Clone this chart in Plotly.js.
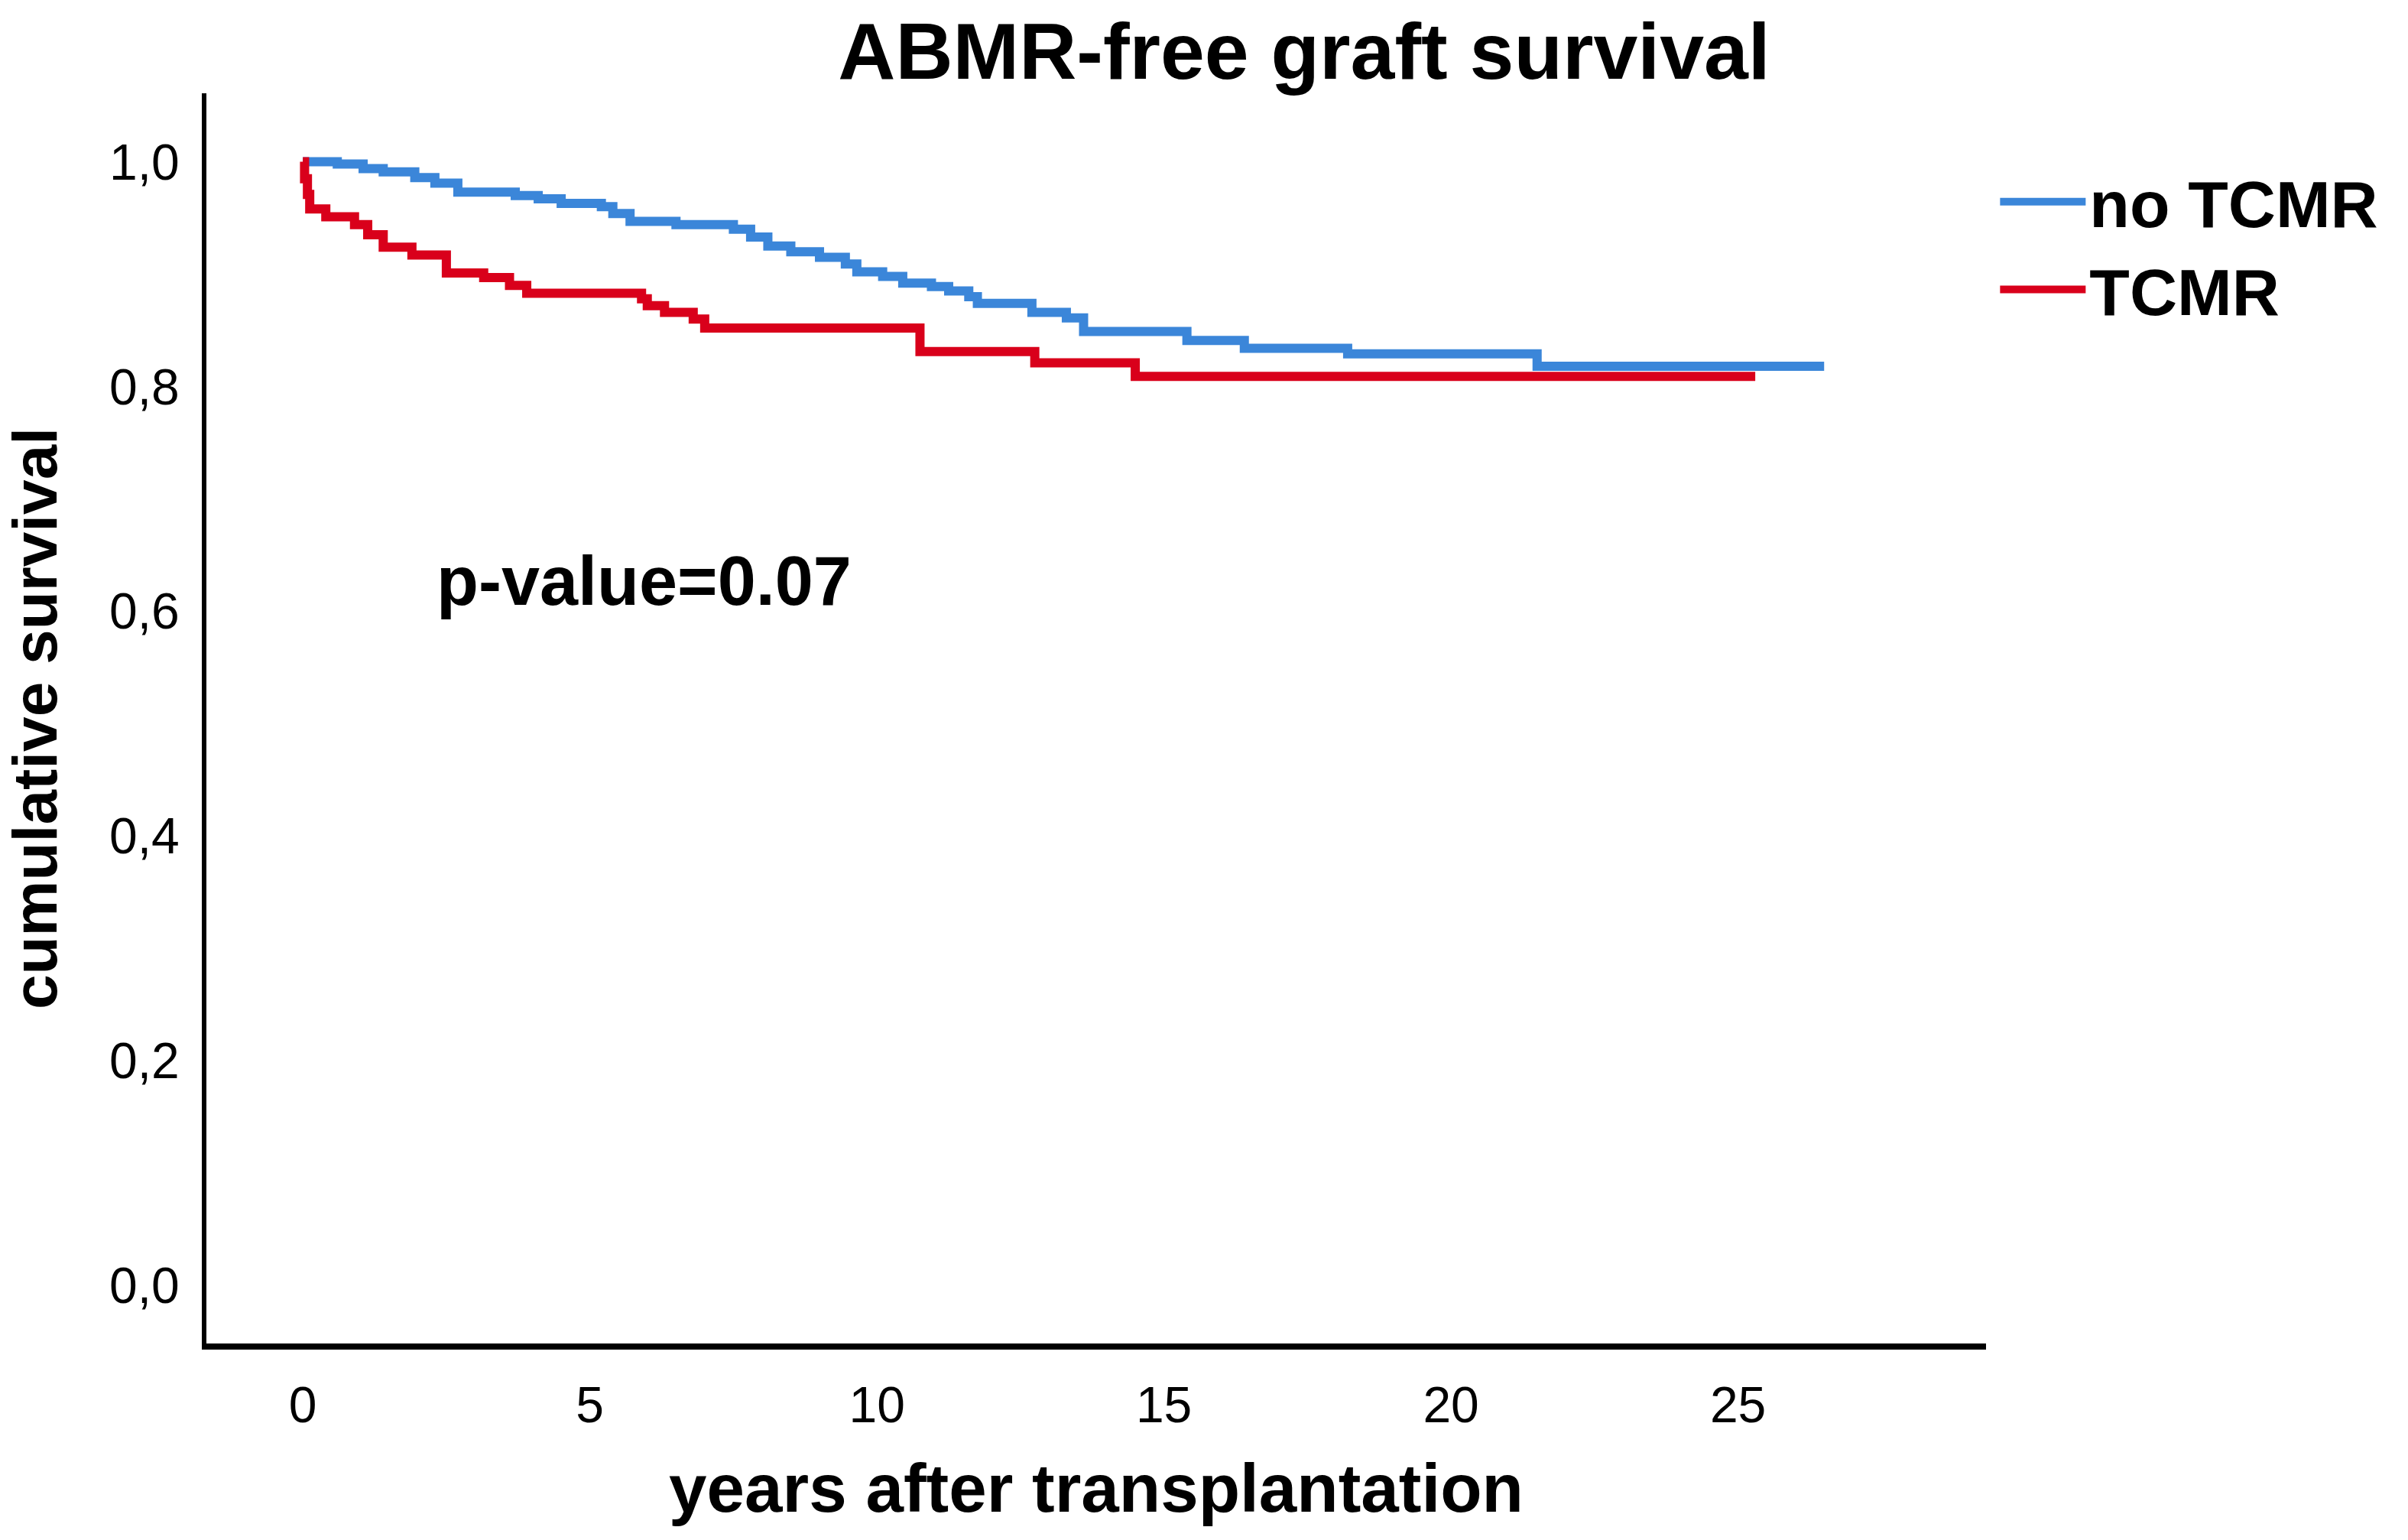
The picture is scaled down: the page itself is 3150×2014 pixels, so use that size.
<!DOCTYPE html>
<html>
<head>
<meta charset="utf-8">
<script src="https://cdn.plot.ly/plotly-3.0.1.min.js"></script>
<style>html,body{margin:0;padding:0;background:#fff;}#chart{width:3150px;height:2014px;}</style>
</head>
<body>
<div id="chart"></div>
<script>
// Kaplan-Meier step points (years, cumulative survival)
const noTcmrYears = [0, 0.6, 1.05, 1.4, 1.95, 2.3, 2.7, 3.7, 4.1, 4.5, 5.2, 5.4, 5.7, 6.5, 7.5, 7.8, 8.1, 8.5, 9.0, 9.45, 9.65, 10.1, 10.45, 10.95, 11.25, 11.6, 11.75, 12.7, 13.3, 13.6, 15.4, 16.4, 18.2, 21.5, 26.5];
const noTcmrSurv  = [1.0, 0.998, 0.994, 0.991, 0.986, 0.981, 0.973, 0.970, 0.967, 0.963, 0.960, 0.954, 0.947, 0.944, 0.940, 0.933, 0.925, 0.920, 0.915, 0.909, 0.902, 0.898, 0.892, 0.889, 0.885, 0.880, 0.874, 0.866, 0.861, 0.849, 0.841, 0.834, 0.829, 0.818, 0.818];

const tcmrYears = [0, 0.03, 0.08, 0.12, 0.4, 0.9, 1.13, 1.4, 1.9, 2.5, 3.15, 3.6, 3.9, 5.9, 6.0, 6.3, 6.8, 7.0, 10.75, 12.75, 14.5, 25.3];
const tcmrSurv  = [1.0, 0.985, 0.971, 0.958, 0.951, 0.944, 0.935, 0.924, 0.917, 0.901, 0.897, 0.890, 0.883, 0.878, 0.872, 0.866, 0.860, 0.852, 0.831, 0.821, 0.809, 0.809];

const seriesNames = ['no TCMR', 'TCMR'];
const xTicks = [0, 5, 10, 15, 20, 25];
const yTicks = [0, 0.2, 0.4, 0.6, 0.8, 1.0];
const pValueText = 'p-value=0.07';

const BLUE = '#3b86d9';
const RED = '#d9001b';
const SANS = '"Liberation Sans", Arial, sans-serif';

const traces = [
  {x: noTcmrYears, y: noTcmrSurv, name: seriesNames[0], type: 'scatter', mode: 'lines',
   line: {shape: 'hv', color: BLUE, width: 12}},
  {x: tcmrYears, y: tcmrSurv, name: seriesNames[1], type: 'scatter', mode: 'lines',
   line: {shape: 'hv', color: RED, width: 12}}
];

const layout = {
  width: 3150, height: 2014,
  paper_bgcolor: '#fff', plot_bgcolor: '#fff',
  margin: {l: 270, r: 552, t: 122, b: 257, pad: 0},
  separators: ', ',
  showlegend: true,
  title: {text: 'ABMR-free graft survival', font: {family: SANS, size: 104, color: '#000', weight: 'bold'},
          xref: 'container', x: 0.5416, xanchor: 'center', yref: 'container', y: 0.967, yanchor: 'middle'},
  xaxis: {
    range: [-1.68, 29.32], tickvals: xTicks, showgrid: false, zeroline: false,
    showline: true, linecolor: '#000', linewidth: 8, ticks: '', ticklabelstandoff: 16,
    tickfont: {family: SANS, size: 66, color: '#000'},
    title: {text: 'years after transplantation', font: {family: SANS, size: 89, color: '#000', weight: 'bold'}, standoff: 44}
  },
  yaxis: {
    range: [-0.052, 1.061], tickvals: yTicks, tickformat: '.1f', showgrid: false, zeroline: false,
    showline: true, linecolor: '#000', linewidth: 6, ticks: '', ticklabelstandoff: 16,
    tickfont: {family: SANS, size: 66, color: '#000'},
    title: {text: 'cumulative survival', font: {family: SANS, size: 82, color: '#000', weight: 'bold'}, standoff: 68}
  },
  legend: {
    xref: 'container', yref: 'container', x: 0.829, y: 0.9, xanchor: 'left', yanchor: 'top',
    font: {family: SANS, size: 86, color: '#000', weight: 'bold'},
    itemwidth: 112, tracegroupgap: 0, bgcolor: 'rgba(0,0,0,0)'
  },
  annotations: [
    {text: pValueText, xref: 'x', yref: 'y', x: 2.3, y: 0.627, xanchor: 'left', yanchor: 'middle',
     showarrow: false, font: {family: SANS, size: 90, color: '#000', weight: 'bold'}}
  ]
};

Plotly.newPlot('chart', traces, layout, {displayModeBar: false, staticPlot: true});
</script>
</body>
</html>
